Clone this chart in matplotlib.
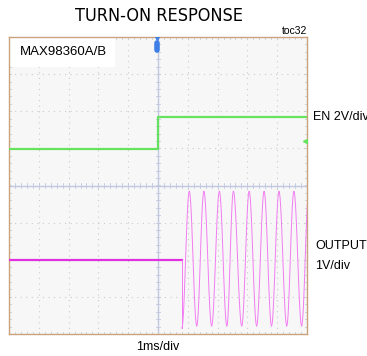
import numpy as np
import matplotlib
matplotlib.use("Agg")
from matplotlib import pyplot as plt
from matplotlib.patches import Rectangle

# time axis in divisions (1ms/div), voltage in divisions
en_t = [0.0, 5.0, 5.0, 10.0]
en_v = [0.97, 0.97, 1.85, 1.85]

out_flat_t = [0.0, 5.8]
out_flat_v = [-2.0, -2.0]

# extrema of the output burst (trough first)
out_ext_t = [5.8, 6.05, 6.30, 6.54, 6.80, 7.06, 7.31, 7.53, 7.81,
             8.06, 8.31, 8.56, 8.81, 9.06, 9.32, 9.56, 9.82, 10.06]
out_ext_v = [-3.84, -0.16, -3.78, -0.16, -3.78, -0.16, -3.78, -0.16, -3.78,
             -0.16, -3.78, -0.16, -3.78, -0.16, -3.78, -0.16, -3.78, -0.16]

W, H = 367, 356
fig = plt.figure(figsize=(W / 100, H / 100), dpi=100)
fig.patch.set_facecolor("white")
ax = fig.add_axes([9 / W, 1 - 334 / H, 298 / W, 297 / H])
ax.set_facecolor("#f7f7f7")
ax.set_xlim(0, 10)
ax.set_ylim(-4, 4)
ax.set_xticks([])
ax.set_yticks([])
for s in ax.spines.values():
    s.set_color("#c9a27e")
    s.set_linewidth(1.0)

# dotted grid
for x in range(1, 10):
    if x != 5:
        ax.axvline(x, color="#cccccc", lw=0.8, ls=(0, (1, 4)), zorder=1)
for y in range(-3, 4):
    if y != 0:
        ax.axhline(y, color="#cccccc", lw=0.8, ls=(0, (1, 4)), zorder=1)

# centre lines with minor ticks
cl = "#c0c7df"
ax.axvline(5, color=cl, lw=1.0, zorder=1)
ax.axhline(0, color=cl, lw=1.0, zorder=1)
for t in np.arange(0.2, 10, 0.2):
    ax.plot([t, t], [-0.06, 0.06], color=cl, lw=0.6, zorder=1)
    ax.plot([t, t], [4, 3.94], color="#cccccc", lw=0.6, zorder=1)
    ax.plot([t, t], [-4, -3.94], color="#cccccc", lw=0.6, zorder=1)
for v in np.arange(-3.8, 4, 0.2):
    ax.plot([4.93, 5.07], [v, v], color=cl, lw=0.6, zorder=1)
    ax.plot([0, 0.06], [v, v], color="#cccccc", lw=0.6, zorder=1)
    ax.plot([10, 9.94], [v, v], color="#cccccc", lw=0.6, zorder=1)

# EN trace
ax.plot(en_t, en_v, color="#66e25e", lw=1.6, zorder=3, solid_capstyle="butt")
ax.plot(9.93, 1.2, marker="<", color="#66e25e", ms=3, zorder=3)

# OUTPUT trace: flat then burst, half cosine between extrema
ax.plot(out_flat_t, out_flat_v, color="#e030e0", lw=1.6, zorder=3)
ax.plot([out_flat_t[-1], out_ext_t[0]], [out_flat_v[-1], out_ext_v[0]],
        color="#f27cf2", lw=0.7, zorder=3)
for i in range(len(out_ext_t) - 1):
    t0, t1 = out_ext_t[i], out_ext_t[i + 1]
    v0, v1 = out_ext_v[i], out_ext_v[i + 1]
    ph = np.linspace(0, np.pi, 20)
    tt = t0 + (t1 - t0) * ph / np.pi
    vv = v0 + (v1 - v0) * (1 - np.cos(ph)) / 2
    ax.plot(tt, vv, color="#f27cf2", lw=0.7, zorder=3)

# trigger marker
ax.plot([4.97, 4.97], [3.66, 3.85], color="#3d7fe6", lw=4, solid_capstyle="round", zorder=4)
ax.plot(4.97, 3.97, marker="v", color="#3d7fe6", ms=3, zorder=4)

# label box
ax.add_patch(Rectangle((0, 3.19), 3.56, 0.81, facecolor="white", edgecolor="none", zorder=2))
ax.text(0.37, 3.6, "MAX98360A/B", fontsize=9.5, family="Liberation Sans",
        va="center", ha="left", zorder=5)

fig.text(159 / W, 1 - 16 / H, "TURN-ON RESPONSE", fontsize=13,
         family="DejaVu Sans", stretch="condensed", ha="center", va="center")
fig.text(307 / W, 1 - 31 / H, "toc32", fontsize=7.5, family="Liberation Sans",
         ha="right", va="center")
fig.text(313 / W, 1 - 117 / H, "EN 2V/div", fontsize=9, family="Liberation Sans",
         ha="left", va="center")
fig.text(315 / W, 1 - 246 / H, "OUTPUT", fontsize=9, family="Liberation Sans",
         ha="left", va="center")
fig.text(315 / W, 1 - 266 / H, "1V/div", fontsize=9, family="Liberation Sans",
         ha="left", va="center")
fig.text(158 / W, 1 - 347 / H, "1ms/div", fontsize=9, family="Liberation Sans",
         ha="center", va="center")

fig.savefig("out.png", dpi=100)
